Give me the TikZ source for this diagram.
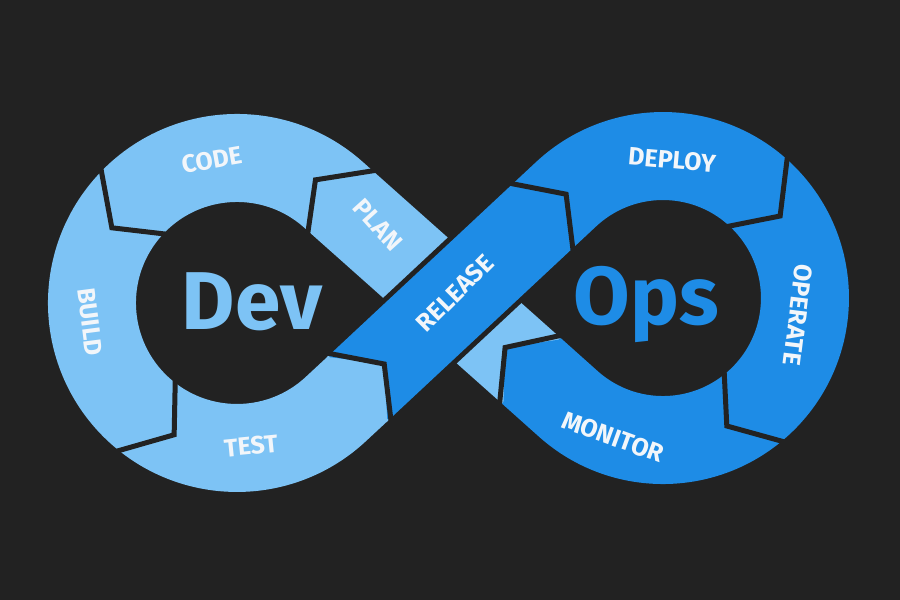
\documentclass[tikz,border=0pt]{standalone}
\usepackage{fontspec}
\setmainfont{Fira Sans}
\usetikzlibrary{calc}
\definecolor{bg}{HTML}{222222}
\definecolor{lblue}{HTML}{7DC3F5}
\definecolor{dblue}{HTML}{1E8CE6}
\definecolor{lbltxt}{HTML}{F2F6FA}
\begin{document}
\begin{tikzpicture}[x=1pt,y=1pt,
  band/.style={line width=88pt},
  gapline/.style={draw=bg,line width=5pt,line join=miter},
  lbl/.style={text=lbltxt,font=\bfseries\fontsize{25}{25}\selectfont,inner sep=0pt},
  big/.style={font=\bfseries\fontsize{82}{82}\selectfont,inner sep=0pt}]
\useasboundingbox (0,0) rectangle (900,600);
\fill[bg] (0,0) rectangle (900,600);
\coordinate (C1) at (237,297);
\coordinate (C2) at (663,302);
\coordinate (T1a) at (333.4,405.3);
\coordinate (T1b) at (335.9,191.0);
\coordinate (T2a) at (566.1,405.8);
\coordinate (T2b) at (568.6,196.0);
\coordinate (P4) at (358.6,212.1);
\coordinate (P8) at (531.25,229.24);
% light ribbon (PLAN, CODE, BUILD, TEST)
\draw[band,lblue] (P8) -- (T1a) arc[start angle=48.31,end angle=313.03,radius=145] -- (P4);
% border of the crossing band
\draw[line width=98pt,bg] (P4) -- (T2a);
% dark ribbon (RELEASE, DEPLOY, OPERATE, MONITOR)
\draw[band,dblue] (P4) -- (T2a) arc[start angle=133.01,end angle=-131.67,radius=142] -- (P8);
% arrow heads where the colour changes
\fill[lblue] (327.1,242.9) -- (384.2,236.0) -- (387.1,178.5) -- (388.6,179.9) -- (328.6,244.3) -- cycle;
\fill[lblue] (327.1,242.9) -- (384.2,236.0) -- (387.1,178.5) -- cycle;
\fill[dblue] (562.0,260.8) -- (505.1,252.5) -- (503.5,195.1) -- cycle;
% separators
\draw[gapline] ($(C1)+(43.5:193)$) -- ($(C1)+(57.5:146)$) -- ($(C1)+(43.5:97)$);
\draw[gapline] ($(C1)+(135:193)$) -- ($(C1)+(149:146)$) -- ($(C1)+(135:97)$);
\draw[gapline] ($(C1)+(230.5:193)$) -- ($(C1)+(244.5:146)$) -- ($(C1)+(230.5:97)$);
\draw[gapline] (325.8,247.2) -- (384.2,236.0) -- (391.3,177.0);
\draw[gapline] (507.9,417.1) -- (566.1,405.8) -- (573.4,346.9);
\draw[gapline] ($(C2)+(49:190)$) -- ($(C2)+(35:143)$) -- ($(C2)+(49:94)$);
\draw[gapline] ($(C2)+(-49.5:190)$) -- ($(C2)+(-63.5:143)$) -- ($(C2)+(-49.5:94)$);
\draw[gapline] (563.2,265.1) -- (505.1,252.5) -- (499.3,193.4);
% labels
\node[lbl,rotate=10] (code) at ($(C1)+(100:145)$) {CODE};
\node[lbl,rotate=-82.6] (build) at (90,278) {BUILD};
\node[lbl,rotate=5.6] (test) at (251,154) {TEST};
\node[lbl,rotate=-48] (plan) at (378,375) {PLAN};
\node[lbl,rotate=45] (release) at (455,307) {RELEASE};
\node[lbl,rotate=-5] (deploy) at (672,440) {DEPLOY};
\node[lbl,rotate=-97] (operate) at (798,285) {OPERATE};
\node[lbl,rotate=-20] (monitor) at (613,163) {MONITOR};
\node[big,text=lblue,anchor=base] (dev) at (252,270) {Dev};
\node[big,text=dblue,anchor=base] (ops) at (646,275) {Ops};
\end{tikzpicture}
\end{document}
